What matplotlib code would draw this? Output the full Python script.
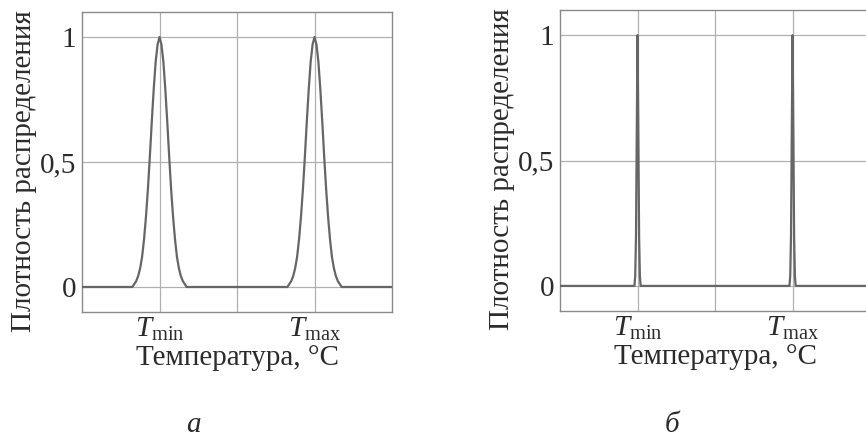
import matplotlib
matplotlib.use("Agg")
import matplotlib.pyplot as plt

plt.rcParams['font.family'] = ['Liberation Serif', 'DejaVu Serif']
plt.rcParams['mathtext.fontset'] = 'custom'
plt.rcParams['mathtext.rm'] = 'Liberation Serif'
plt.rcParams['mathtext.it'] = 'Liberation Serif:italic'

# peak positions on the temperature axis (0..4, grid at 1, 2, 3)
peak_centers = [1.0, 3.0]
x_limits = [0.0, 4.0]

# half profile of a wide peak (panel a)
wide_offsets = [0.0, 0.025, 0.05, 0.075, 0.1, 0.125, 0.15, 0.175, 0.2,
                0.225, 0.25, 0.275, 0.3, 0.325, 0.35]
wide_heights = [1.0, 0.97, 0.90, 0.79, 0.66, 0.52, 0.39, 0.28, 0.19,
                0.12, 0.075, 0.044, 0.024, 0.012, 0.0]

# half profile of a narrow peak (panel b)
narrow_offsets = [0.0, 0.01, 0.02, 0.03, 0.04]
narrow_heights = [1.0, 0.62, 0.2, 0.04, 0.0]

y_ticks = [0, 0.5, 1]
y_tick_labels = ['0', '0,5', '1']
x_ticks = [1, 2, 3]
x_tick_labels = [r'$T_{\mathrm{min}}$', '', r'$T_{\mathrm{max}}$']
panel_letters = ['а', 'б']


def build_curve(offsets, heights):
    xs = [x_limits[0]]
    ys = [0.0]
    for c in peak_centers:
        for o, h in zip(reversed(offsets), reversed(heights)):
            xs.append(c - o)
            ys.append(h)
        for o, h in zip(offsets[1:], heights[1:]):
            xs.append(c + o)
            ys.append(h)
    xs.append(x_limits[1])
    ys.append(0.0)
    return xs, ys


text_color = '#2b2b2b'
fs = 21
fig = plt.figure(figsize=(8.66, 4.38), dpi=100)
ax_a = fig.add_axes([0.0947, 0.2877, 0.358, 0.685])
ax_b = fig.add_axes([0.6467, 0.2900, 0.358, 0.687])

for ax, (offs, hts) in zip([ax_a, ax_b], [(wide_offsets, wide_heights),
                                          (narrow_offsets, narrow_heights)]):
    xs, ys = build_curve(offs, hts)
    ax.plot(xs, ys, color='#666666', lw=1.6, zorder=3)
    ax.set_xlim(x_limits)
    ax.set_ylim(-0.1, 1.1)
    ax.set_xticks(x_ticks)
    ax.set_xticklabels(x_tick_labels)
    ax.set_yticks(y_ticks)
    ax.set_yticklabels(y_tick_labels)
    ax.grid(True, color='#b0b0b0', lw=0.9)
    ax.tick_params(length=0, labelsize=fs, colors=text_color, pad=4)
    ax.tick_params(axis='x', pad=3)
    for s in ax.spines.values():
        s.set_color('#8a8a8a')
        s.set_linewidth(1.0)
    ax.set_xlabel('Температура, °C', fontsize=fs, color=text_color, labelpad=1)
    ax.set_ylabel('Плотность распределения', fontsize=fs, color=text_color,
                  labelpad=2)
    ax.yaxis.label.set_y(0.47)

fig.text(0.223, 0.014, panel_letters[0], fontsize=fs, style='italic',
         color=text_color, ha='center')
fig.text(0.776, 0.014, panel_letters[1], fontsize=fs, style='italic',
         color=text_color, ha='center')

fig.savefig('out.png', dpi=100)
